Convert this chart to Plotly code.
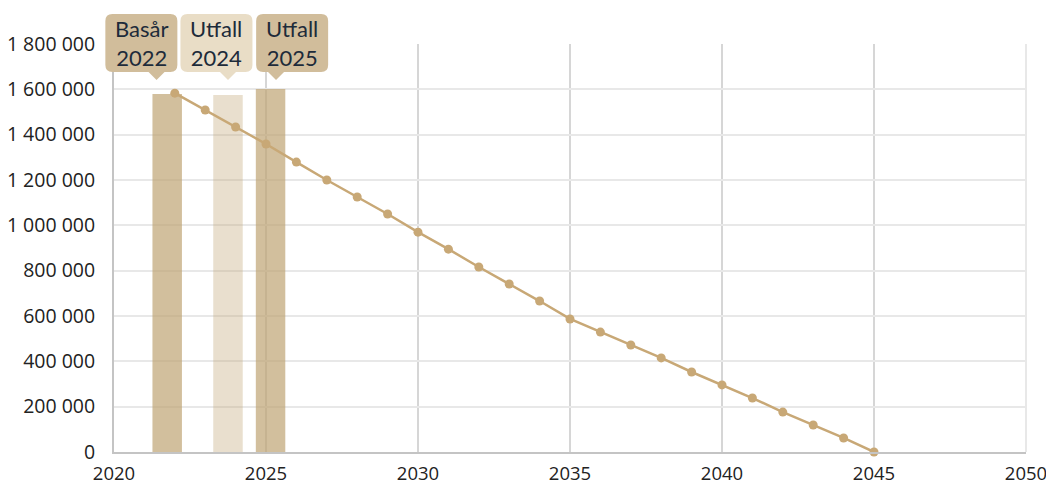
import plotly.graph_objects as go

# ---- data ----
years = list(range(2022, 2046))
trajectory = [1583000, 1509000, 1434000, 1359000, 1279000, 1200000, 1125000, 1050000,
              970000, 895000, 816000, 741000, 666000, 587000, 529000, 472000, 415000,
              353000, 296000, 238000, 176000, 119000, 62000, 0]
bar_x = [2021.75, 2023.75, 2025.15]
bar_values = [1579000, 1575000, 1601000]
bar_labels = ["Basår<br>2022", "Utfall<br>2024", "Utfall<br>2025"]
bar_alpha = [0.7, 0.35, 0.7]
callout_colors = ["#d1bd9b", "#e9ddc6", "#d1bd9b"]
callout_pointer_x = [2021.4, 2023.75, 2025.33]
callout_center_x = [2020.9, 2023.37, 2025.86]

X_MIN, X_MAX = 2020, 2050
Y_MAX = 1800000
BAR_BASE = -8000
L, R, T, B = 114, 20, 44, 36
WIDTH, HEIGHT = 1046, 488
PW = WIDTH - L - R
PH = HEIGHT - T - B

def px2paper_x(px):
    return (px - L) / PW

def py2paper_y(py):
    return (HEIGHT - B - py) / PH

def data2px(x):
    return L + (x - X_MIN) / (X_MAX - X_MIN) * PW

fig = go.Figure()

for x, v, a in zip(bar_x, bar_values, bar_alpha):
    fig.add_trace(go.Bar(x=[x], y=[v - BAR_BASE], width=0.97, base=BAR_BASE,
                         marker=dict(color=f"rgba(191,164,116,{a})", line=dict(width=0)),
                         showlegend=False, hoverinfo="skip", cliponaxis=False))

fig.add_trace(go.Scatter(x=years, y=trajectory, mode="lines+markers",
                         line=dict(color="#c8a876", width=2.5),
                         marker=dict(color="#c8a876", size=9),
                         showlegend=False, cliponaxis=False))

shapes = []
annotations = []
box_w, box_top, box_bot, tip_y, tip_half, rad = 72, 14, 72, 80, 8, 7
for cx, tx, col, lab in zip(callout_center_x, callout_pointer_x, callout_colors, bar_labels):
    c = data2px(cx)
    t = data2px(tx)
    x0, x1 = c - box_w / 2, c + box_w / 2
    X = px2paper_x
    Y = py2paper_y
    path = (f"M {X(x0+rad)} {Y(box_top)} L {X(x1-rad)} {Y(box_top)} "
            f"Q {X(x1)} {Y(box_top)} {X(x1)} {Y(box_top+rad)} "
            f"L {X(x1)} {Y(box_bot-rad)} Q {X(x1)} {Y(box_bot)} {X(x1-rad)} {Y(box_bot)} "
            f"L {X(t+tip_half)} {Y(box_bot)} L {X(t)} {Y(tip_y)} L {X(t-tip_half)} {Y(box_bot)} "
            f"L {X(x0+rad)} {Y(box_bot)} Q {X(x0)} {Y(box_bot)} {X(x0)} {Y(box_bot-rad)} "
            f"L {X(x0)} {Y(box_top+rad)} Q {X(x0)} {Y(box_top)} {X(x0+rad)} {Y(box_top)} Z")
    shapes.append(dict(type="path", xref="paper", yref="paper", path=path,
                       fillcolor=col, line=dict(width=0), layer="above"))
    annotations.append(dict(xref="paper", yref="paper", x=X(c), y=Y((box_top + box_bot) / 2),
                            text=lab, showarrow=False, xanchor="center", yanchor="middle",
                            font=dict(family="Lato, Open Sans, sans-serif", size=22, color="#1d2b3a")))

fig.update_layout(
    width=WIDTH, height=HEIGHT,
    margin=dict(l=L, r=R, t=T, b=B, autoexpand=False),
    plot_bgcolor="white", paper_bgcolor="white",
    separators=", ",
    barmode="overlay",
    shapes=shapes, annotations=annotations,
    font=dict(family="Open Sans, sans-serif", size=20, color="#222222"),
    xaxis=dict(range=[X_MIN, X_MAX], dtick=5, tick0=2020, showgrid=True,
               gridcolor="#d6d6d6", gridwidth=1.5, zeroline=False, automargin=False,
               showline=True, linecolor="#c4c4c4", linewidth=2, mirror=False,
               ticks="", tickfont=dict(size=18.5), ticklabelstandoff=4,
               ticklabeloverflow="allow"),
    yaxis=dict(range=[0, Y_MAX], dtick=200000, tickformat=",d", showgrid=True,
               gridcolor="#e8e8e8", gridwidth=2, zeroline=False, automargin=False,
               showline=True, linecolor="#c4c4c4", linewidth=2,
               ticks="", tickfont=dict(size=19.5), ticklabelstandoff=13,
               ticklabeloverflow="allow"),
)
fig.add_shape(type="line", xref="paper", yref="paper", x0=1, x1=1, y0=0, y1=1,
              line=dict(color="#e0e0e0", width=1.5), layer="below")

fig.write_html("out.html", config={"displayModeBar": False},
               post_script="document.body.style.margin='0';")
